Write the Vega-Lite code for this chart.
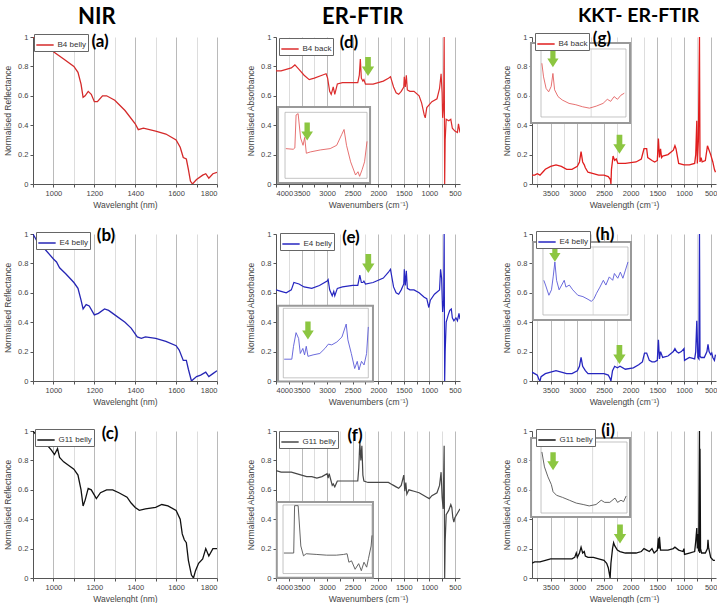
{
"$schema": "https://vega.github.io/schema/vega-lite/v6.json",
"padding": {"left": 3, "top": 5, "right": 0, "bottom": 0},
"config": {
 "view": {"stroke": null},
 "font": "Liberation Sans",
 "axis": {"labelFontSize": 7.5, "titleFontSize": 8.5, "titleFontWeight": "normal", "labelColor": "#444", "titleColor": "#444", "domainColor": "#555", "tickColor": "#555", "tickSize": 3, "labelPadding": 2, "titlePadding": 4, "gridWidth": 0.8, "labelFont": "Liberation Sans", "titleFont": "Liberation Sans"},
 "axisY": {"grid": false, "titlePadding": 5},
 "axisX": {"grid": true},
 "legend": {"orient": "none", "fillColor": "white", "strokeColor": "#666", "padding": 1.5, "symbolType": "stroke", "symbolSize": 300, "symbolStrokeWidth": 1.5, "labelFontSize": 8, "labelColor": "#333", "labelOffset": 3, "labelFont": "Liberation Sans"},
 "title": {"font": "Lato", "fontSize": 22, "fontWeight": "bold", "anchor": "start", "frame": "group", "color": "#000", "offset": 4}
},
"datasets": {
 "a": [{"x":900,"y":1.0},{"x":950,"y":0.95},{"x":1000,"y":0.9},{"x":1050,"y":0.85},{"x":1100,"y":0.8},{"x":1120,"y":0.76},{"x":1135,"y":0.68},{"x":1145,"y":0.59},{"x":1155,"y":0.6},{"x":1170,"y":0.63},{"x":1185,"y":0.61},{"x":1200,"y":0.56},{"x":1215,"y":0.56},{"x":1240,"y":0.6},{"x":1260,"y":0.6},{"x":1300,"y":0.57},{"x":1350,"y":0.5},{"x":1400,"y":0.41},{"x":1415,"y":0.37},{"x":1440,"y":0.38},{"x":1500,"y":0.36},{"x":1550,"y":0.34},{"x":1600,"y":0.3},{"x":1620,"y":0.25},{"x":1635,"y":0.18},{"x":1650,"y":0.17},{"x":1660,"y":0.1},{"x":1670,"y":0.02},{"x":1680,"y":0.0},{"x":1700,"y":0.03},{"x":1730,"y":0.06},{"x":1745,"y":0.07},{"x":1760,"y":0.04},{"x":1780,"y":0.07},{"x":1800,"y":0.08}],
 "b": [{"x":900,"y":1.0},{"x":920,"y":0.95},{"x":950,"y":0.91},{"x":1000,"y":0.83},{"x":1015,"y":0.81},{"x":1030,"y":0.77},{"x":1060,"y":0.73},{"x":1100,"y":0.67},{"x":1120,"y":0.63},{"x":1135,"y":0.55},{"x":1145,"y":0.49},{"x":1160,"y":0.52},{"x":1175,"y":0.51},{"x":1200,"y":0.45},{"x":1220,"y":0.46},{"x":1250,"y":0.49},{"x":1270,"y":0.48},{"x":1300,"y":0.45},{"x":1350,"y":0.4},{"x":1380,"y":0.36},{"x":1410,"y":0.3},{"x":1430,"y":0.29},{"x":1450,"y":0.3},{"x":1500,"y":0.29},{"x":1550,"y":0.27},{"x":1600,"y":0.24},{"x":1615,"y":0.21},{"x":1635,"y":0.14},{"x":1650,"y":0.14},{"x":1660,"y":0.08},{"x":1675,"y":0.0},{"x":1700,"y":0.03},{"x":1720,"y":0.04},{"x":1745,"y":0.06},{"x":1760,"y":0.03},{"x":1780,"y":0.05},{"x":1800,"y":0.07}],
 "c": [{"x":900,"y":1.0},{"x":930,"y":0.95},{"x":960,"y":0.92},{"x":990,"y":0.87},{"x":1005,"y":0.84},{"x":1020,"y":0.88},{"x":1030,"y":0.82},{"x":1050,"y":0.79},{"x":1080,"y":0.76},{"x":1100,"y":0.74},{"x":1120,"y":0.7},{"x":1135,"y":0.6},{"x":1145,"y":0.49},{"x":1155,"y":0.53},{"x":1170,"y":0.61},{"x":1185,"y":0.6},{"x":1210,"y":0.54},{"x":1230,"y":0.58},{"x":1260,"y":0.6},{"x":1290,"y":0.6},{"x":1320,"y":0.58},{"x":1360,"y":0.55},{"x":1380,"y":0.51},{"x":1400,"y":0.48},{"x":1420,"y":0.46},{"x":1450,"y":0.47},{"x":1500,"y":0.48},{"x":1530,"y":0.5},{"x":1560,"y":0.49},{"x":1600,"y":0.46},{"x":1620,"y":0.4},{"x":1630,"y":0.3},{"x":1640,"y":0.26},{"x":1650,"y":0.24},{"x":1660,"y":0.12},{"x":1675,"y":0.02},{"x":1685,"y":0.0},{"x":1695,"y":0.05},{"x":1710,"y":0.1},{"x":1730,"y":0.13},{"x":1745,"y":0.2},{"x":1760,"y":0.15},{"x":1780,"y":0.2},{"x":1800,"y":0.2}],
 "d": [{"x":4000,"y":0.77},{"x":3900,"y":0.77},{"x":3800,"y":0.78},{"x":3700,"y":0.79},{"x":3630,"y":0.81},{"x":3550,"y":0.78},{"x":3450,"y":0.74},{"x":3350,"y":0.71},{"x":3250,"y":0.72},{"x":3100,"y":0.74},{"x":3020,"y":0.75},{"x":2990,"y":0.72},{"x":2950,"y":0.63},{"x":2920,"y":0.61},{"x":2880,"y":0.66},{"x":2850,"y":0.61},{"x":2800,"y":0.68},{"x":2700,"y":0.69},{"x":2500,"y":0.69},{"x":2400,"y":0.69},{"x":2370,"y":0.74},{"x":2350,"y":0.85},{"x":2330,"y":0.72},{"x":2300,"y":0.7},{"x":2280,"y":0.71},{"x":2250,"y":0.68},{"x":2100,"y":0.68},{"x":1900,"y":0.7},{"x":1800,"y":0.72},{"x":1760,"y":0.73},{"x":1700,"y":0.66},{"x":1650,"y":0.62},{"x":1600,"y":0.61},{"x":1550,"y":0.63},{"x":1500,"y":0.66},{"x":1490,"y":0.73},{"x":1470,"y":0.66},{"x":1450,"y":0.74},{"x":1430,"y":0.64},{"x":1380,"y":0.63},{"x":1300,"y":0.63},{"x":1200,"y":0.6},{"x":1150,"y":0.55},{"x":1100,"y":0.47},{"x":1080,"y":0.45},{"x":1050,"y":0.52},{"x":1000,"y":0.54},{"x":950,"y":0.56},{"x":850,"y":0.58},{"x":800,"y":0.65},{"x":770,"y":0.75},{"x":750,"y":0.62},{"x":740,"y":0.45},{"x":720,"y":0.55},{"x":710,"y":1.0},{"x":700,"y":0.0},{"x":690,"y":0.3},{"x":670,"y":0.44},{"x":620,"y":0.43},{"x":580,"y":0.44},{"x":550,"y":0.38},{"x":500,"y":0.36},{"x":450,"y":0.35},{"x":430,"y":0.41},{"x":400,"y":0.35}],
 "e": [{"x":4000,"y":0.62},{"x":3900,"y":0.61},{"x":3800,"y":0.6},{"x":3700,"y":0.62},{"x":3650,"y":0.67},{"x":3550,"y":0.66},{"x":3450,"y":0.64},{"x":3300,"y":0.63},{"x":3150,"y":0.65},{"x":3000,"y":0.68},{"x":2980,"y":0.69},{"x":2950,"y":0.62},{"x":2900,"y":0.58},{"x":2870,"y":0.61},{"x":2850,"y":0.58},{"x":2800,"y":0.63},{"x":2700,"y":0.64},{"x":2500,"y":0.65},{"x":2400,"y":0.65},{"x":2360,"y":0.72},{"x":2330,"y":0.67},{"x":2300,"y":0.67},{"x":2280,"y":0.68},{"x":2250,"y":0.66},{"x":2100,"y":0.67},{"x":1900,"y":0.7},{"x":1800,"y":0.74},{"x":1760,"y":0.76},{"x":1700,"y":0.64},{"x":1650,"y":0.6},{"x":1600,"y":0.59},{"x":1550,"y":0.62},{"x":1500,"y":0.66},{"x":1490,"y":0.76},{"x":1470,"y":0.65},{"x":1450,"y":0.75},{"x":1430,"y":0.63},{"x":1380,"y":0.62},{"x":1300,"y":0.62},{"x":1200,"y":0.6},{"x":1100,"y":0.57},{"x":1050,"y":0.56},{"x":1010,"y":0.5},{"x":980,"y":0.55},{"x":900,"y":0.59},{"x":800,"y":0.62},{"x":780,"y":0.76},{"x":760,"y":0.7},{"x":740,"y":0.47},{"x":720,"y":0.55},{"x":710,"y":1.0},{"x":700,"y":0.0},{"x":690,"y":0.2},{"x":670,"y":0.4},{"x":630,"y":0.45},{"x":600,"y":0.48},{"x":570,"y":0.49},{"x":550,"y":0.43},{"x":520,"y":0.41},{"x":480,"y":0.43},{"x":450,"y":0.41},{"x":420,"y":0.46},{"x":400,"y":0.42}],
 "f": [{"x":4000,"y":0.73},{"x":3900,"y":0.72},{"x":3800,"y":0.72},{"x":3700,"y":0.72},{"x":3600,"y":0.71},{"x":3500,"y":0.7},{"x":3400,"y":0.69},{"x":3300,"y":0.69},{"x":3200,"y":0.68},{"x":3100,"y":0.69},{"x":3000,"y":0.71},{"x":2980,"y":0.68},{"x":2960,"y":0.71},{"x":2930,"y":0.67},{"x":2900,"y":0.63},{"x":2880,"y":0.64},{"x":2850,"y":0.62},{"x":2800,"y":0.66},{"x":2700,"y":0.66},{"x":2500,"y":0.66},{"x":2400,"y":0.66},{"x":2380,"y":0.75},{"x":2360,"y":0.93},{"x":2340,"y":0.8},{"x":2320,"y":0.9},{"x":2300,"y":0.7},{"x":2280,"y":0.66},{"x":2200,"y":0.65},{"x":2000,"y":0.65},{"x":1800,"y":0.65},{"x":1750,"y":0.64},{"x":1700,"y":0.63},{"x":1650,"y":0.62},{"x":1600,"y":0.61},{"x":1550,"y":0.63},{"x":1500,"y":0.7},{"x":1480,"y":0.59},{"x":1460,"y":0.65},{"x":1440,"y":0.57},{"x":1400,"y":0.6},{"x":1300,"y":0.59},{"x":1200,"y":0.58},{"x":1100,"y":0.56},{"x":1050,"y":0.55},{"x":1000,"y":0.54},{"x":950,"y":0.56},{"x":850,"y":0.58},{"x":800,"y":0.63},{"x":770,"y":0.72},{"x":750,"y":0.55},{"x":730,"y":0.47},{"x":710,"y":0.9},{"x":700,"y":0.0},{"x":690,"y":0.25},{"x":670,"y":0.43},{"x":620,"y":0.46},{"x":580,"y":0.5},{"x":560,"y":0.48},{"x":540,"y":0.41},{"x":520,"y":0.38},{"x":500,"y":0.41},{"x":450,"y":0.44},{"x":400,"y":0.47}],
 "g": [{"x":3850,"y":0.06},{"x":3800,"y":0.06},{"x":3750,"y":0.07},{"x":3700,"y":0.06},{"x":3650,"y":0.08},{"x":3600,"y":0.1},{"x":3500,"y":0.12},{"x":3400,"y":0.13},{"x":3300,"y":0.12},{"x":3200,"y":0.1},{"x":3100,"y":0.1},{"x":3000,"y":0.12},{"x":2960,"y":0.15},{"x":2930,"y":0.22},{"x":2900,"y":0.15},{"x":2870,"y":0.13},{"x":2850,"y":0.11},{"x":2800,"y":0.08},{"x":2700,"y":0.07},{"x":2600,"y":0.06},{"x":2500,"y":0.06},{"x":2420,"y":0.05},{"x":2380,"y":0.03},{"x":2370,"y":0.0},{"x":2360,"y":0.1},{"x":2330,"y":0.19},{"x":2300,"y":0.16},{"x":2270,"y":0.17},{"x":2240,"y":0.14},{"x":2100,"y":0.14},{"x":1900,"y":0.15},{"x":1800,"y":0.17},{"x":1750,"y":0.24},{"x":1700,"y":0.24},{"x":1680,"y":0.18},{"x":1600,"y":0.16},{"x":1550,"y":0.15},{"x":1500,"y":0.16},{"x":1480,"y":0.31},{"x":1460,"y":0.18},{"x":1440,"y":0.24},{"x":1420,"y":0.18},{"x":1400,"y":0.19},{"x":1300,"y":0.2},{"x":1200,"y":0.23},{"x":1170,"y":0.26},{"x":1150,"y":0.24},{"x":1120,"y":0.18},{"x":1100,"y":0.14},{"x":1000,"y":0.13},{"x":900,"y":0.13},{"x":800,"y":0.14},{"x":780,"y":0.2},{"x":760,"y":0.43},{"x":750,"y":0.14},{"x":730,"y":0.3},{"x":710,"y":1.0},{"x":700,"y":0.15},{"x":680,"y":0.18},{"x":660,"y":0.15},{"x":600,"y":0.16},{"x":560,"y":0.26},{"x":540,"y":0.24},{"x":500,"y":0.2},{"x":460,"y":0.15},{"x":430,"y":0.1},{"x":410,"y":0.08}],
 "h": [{"x":3850,"y":0.06},{"x":3800,"y":0.05},{"x":3750,"y":0.04},{"x":3720,"y":0.01},{"x":3700,"y":0.0},{"x":3680,"y":0.03},{"x":3600,"y":0.05},{"x":3500,"y":0.06},{"x":3400,"y":0.07},{"x":3300,"y":0.06},{"x":3200,"y":0.05},{"x":3100,"y":0.05},{"x":3000,"y":0.07},{"x":2960,"y":0.1},{"x":2930,"y":0.16},{"x":2900,"y":0.1},{"x":2850,"y":0.07},{"x":2800,"y":0.05},{"x":2700,"y":0.05},{"x":2500,"y":0.05},{"x":2420,"y":0.04},{"x":2390,"y":0.02},{"x":2370,"y":0.0},{"x":2340,"y":0.07},{"x":2300,"y":0.1},{"x":2250,"y":0.09},{"x":2200,"y":0.1},{"x":2100,"y":0.08},{"x":1950,"y":0.09},{"x":1850,"y":0.11},{"x":1780,"y":0.13},{"x":1740,"y":0.19},{"x":1700,"y":0.19},{"x":1650,"y":0.14},{"x":1600,"y":0.13},{"x":1550,"y":0.13},{"x":1500,"y":0.14},{"x":1480,"y":0.28},{"x":1460,"y":0.15},{"x":1440,"y":0.2},{"x":1400,"y":0.16},{"x":1300,"y":0.17},{"x":1200,"y":0.2},{"x":1170,"y":0.22},{"x":1140,"y":0.2},{"x":1100,"y":0.19},{"x":1050,"y":0.2},{"x":1000,"y":0.22},{"x":990,"y":0.14},{"x":900,"y":0.16},{"x":800,"y":0.15},{"x":780,"y":0.2},{"x":760,"y":0.41},{"x":740,"y":0.16},{"x":720,"y":0.15},{"x":710,"y":1.0},{"x":700,"y":0.17},{"x":680,"y":0.16},{"x":620,"y":0.16},{"x":570,"y":0.2},{"x":550,"y":0.25},{"x":530,"y":0.2},{"x":500,"y":0.18},{"x":480,"y":0.19},{"x":460,"y":0.16},{"x":430,"y":0.14},{"x":410,"y":0.18}],
 "i": [{"x":3850,"y":0.1},{"x":3800,"y":0.11},{"x":3700,"y":0.11},{"x":3600,"y":0.12},{"x":3500,"y":0.13},{"x":3400,"y":0.13},{"x":3300,"y":0.13},{"x":3200,"y":0.13},{"x":3100,"y":0.13},{"x":3050,"y":0.14},{"x":3020,"y":0.17},{"x":3000,"y":0.14},{"x":2960,"y":0.17},{"x":2930,"y":0.21},{"x":2900,"y":0.17},{"x":2870,"y":0.18},{"x":2850,"y":0.15},{"x":2800,"y":0.14},{"x":2700,"y":0.14},{"x":2600,"y":0.13},{"x":2500,"y":0.12},{"x":2450,"y":0.1},{"x":2420,"y":0.07},{"x":2400,"y":0.03},{"x":2385,"y":0.0},{"x":2370,"y":0.1},{"x":2340,"y":0.2},{"x":2320,"y":0.24},{"x":2300,"y":0.22},{"x":2250,"y":0.19},{"x":2200,"y":0.18},{"x":2100,"y":0.17},{"x":2000,"y":0.17},{"x":1900,"y":0.17},{"x":1800,"y":0.18},{"x":1750,"y":0.2},{"x":1700,"y":0.19},{"x":1650,"y":0.18},{"x":1600,"y":0.2},{"x":1560,"y":0.17},{"x":1500,"y":0.19},{"x":1480,"y":0.27},{"x":1470,"y":0.2},{"x":1460,"y":0.28},{"x":1440,"y":0.19},{"x":1400,"y":0.19},{"x":1300,"y":0.19},{"x":1200,"y":0.2},{"x":1170,"y":0.21},{"x":1100,"y":0.19},{"x":1020,"y":0.18},{"x":1000,"y":0.2},{"x":990,"y":0.16},{"x":900,"y":0.17},{"x":800,"y":0.18},{"x":780,"y":0.25},{"x":760,"y":0.34},{"x":750,"y":0.2},{"x":740,"y":0.3},{"x":725,"y":0.18},{"x":710,"y":1.0},{"x":705,"y":0.17},{"x":700,"y":0.88},{"x":690,"y":0.2},{"x":670,"y":0.17},{"x":600,"y":0.17},{"x":560,"y":0.2},{"x":550,"y":0.26},{"x":540,"y":0.21},{"x":500,"y":0.14},{"x":450,"y":0.12},{"x":420,"y":0.12}],
 "id": [{"u":0.01,"v":0.45},{"u":0.1,"v":0.44},{"u":0.12,"v":0.46},{"u":0.135,"v":0.96},{"u":0.16,"v":0.98},{"u":0.19,"v":0.61},{"u":0.22,"v":0.5},{"u":0.24,"v":0.62},{"u":0.26,"v":0.38},{"u":0.31,"v":0.4},{"u":0.43,"v":0.43},{"u":0.55,"v":0.45},{"u":0.63,"v":0.5},{"u":0.69,"v":0.66},{"u":0.72,"v":0.74},{"u":0.75,"v":0.5},{"u":0.8,"v":0.25},{"u":0.86,"v":0.05},{"u":0.89,"v":0.1},{"u":0.91,"v":0.03},{"u":0.94,"v":0.13},{"u":0.97,"v":0.25},{"u":1.0,"v":0.56}],
 "ie": [{"u":0.01,"v":0.29},{"u":0.1,"v":0.29},{"u":0.12,"v":0.47},{"u":0.15,"v":0.66},{"u":0.18,"v":0.58},{"u":0.2,"v":0.37},{"u":0.23,"v":0.44},{"u":0.25,"v":0.35},{"u":0.27,"v":0.47},{"u":0.29,"v":0.33},{"u":0.35,"v":0.35},{"u":0.43,"v":0.37},{"u":0.49,"v":0.44},{"u":0.53,"v":0.5},{"u":0.57,"v":0.49},{"u":0.63,"v":0.53},{"u":0.69,"v":0.6},{"u":0.74,"v":0.78},{"u":0.76,"v":0.56},{"u":0.8,"v":0.37},{"u":0.84,"v":0.16},{"u":0.87,"v":0.26},{"u":0.89,"v":0.14},{"u":0.92,"v":0.26},{"u":0.95,"v":0.21},{"u":0.98,"v":0.37},{"u":1.0,"v":0.74}],
 "if": [{"u":0.01,"v":0.32},{"u":0.12,"v":0.32},{"u":0.13,"v":0.99},{"u":0.17,"v":0.99},{"u":0.2,"v":0.42},{"u":0.23,"v":0.28},{"u":0.26,"v":0.31},{"u":0.38,"v":0.3},{"u":0.49,"v":0.29},{"u":0.6,"v":0.29},{"u":0.68,"v":0.3},{"u":0.72,"v":0.31},{"u":0.74,"v":0.19},{"u":0.77,"v":0.21},{"u":0.81,"v":0.09},{"u":0.85,"v":0.17},{"u":0.88,"v":0.07},{"u":0.91,"v":0.19},{"u":0.94,"v":0.12},{"u":0.96,"v":0.24},{"u":0.99,"v":0.42},{"u":1.0,"v":0.57}],
 "ig": [{"u":0.01,"v":0.79},{"u":0.03,"v":0.59},{"u":0.06,"v":0.42},{"u":0.09,"v":0.37},{"u":0.12,"v":0.45},{"u":0.14,"v":0.64},{"u":0.16,"v":0.4},{"u":0.2,"v":0.3},{"u":0.25,"v":0.25},{"u":0.33,"v":0.2},{"u":0.41,"v":0.18},{"u":0.49,"v":0.15},{"u":0.57,"v":0.13},{"u":0.65,"v":0.16},{"u":0.73,"v":0.2},{"u":0.78,"v":0.26},{"u":0.82,"v":0.23},{"u":0.86,"v":0.3},{"u":0.9,"v":0.26},{"u":0.94,"v":0.32},{"u":0.98,"v":0.35}],
 "ih": [{"u":0.01,"v":0.51},{"u":0.03,"v":0.44},{"u":0.07,"v":0.29},{"u":0.1,"v":0.37},{"u":0.12,"v":0.56},{"u":0.14,"v":0.78},{"u":0.16,"v":0.51},{"u":0.19,"v":0.37},{"u":0.22,"v":0.44},{"u":0.25,"v":0.51},{"u":0.27,"v":0.41},{"u":0.31,"v":0.44},{"u":0.35,"v":0.37},{"u":0.41,"v":0.29},{"u":0.47,"v":0.27},{"u":0.53,"v":0.23},{"u":0.57,"v":0.2},{"u":0.6,"v":0.24},{"u":0.63,"v":0.32},{"u":0.67,"v":0.41},{"u":0.71,"v":0.51},{"u":0.74,"v":0.44},{"u":0.78,"v":0.56},{"u":0.82,"v":0.51},{"u":0.84,"v":0.61},{"u":0.88,"v":0.54},{"u":0.91,"v":0.63},{"u":0.94,"v":0.54},{"u":0.97,"v":0.66},{"u":1.0,"v":0.78}],
 "ii": [{"u":0.01,"v":0.86},{"u":0.04,"v":0.65},{"u":0.08,"v":0.51},{"u":0.12,"v":0.4},{"u":0.14,"v":0.3},{"u":0.18,"v":0.25},{"u":0.25,"v":0.22},{"u":0.33,"v":0.18},{"u":0.41,"v":0.14},{"u":0.49,"v":0.12},{"u":0.56,"v":0.1},{"u":0.64,"v":0.12},{"u":0.7,"v":0.18},{"u":0.74,"v":0.15},{"u":0.8,"v":0.15},{"u":0.86,"v":0.21},{"u":0.89,"v":0.15},{"u":0.93,"v":0.18},{"u":0.96,"v":0.16},{"u":0.99,"v":0.24}]
},
"hconcat": [
 {"hconcat": [
  {"vconcat": [
   {"width": 184, "height": 147, "title": {"text": "NIR", "dx": 45},
    "layer": [
     {"data": {"name": "a"}, "mark": {"type": "line", "strokeWidth": 1.3, "clip": true},
      "encoding": {
       "x": {"field": "x", "type": "quantitative", "scale": {"domain": [900, 1800]}, "axis": {"title": "Wavelenght (nm)", "format": "d", "values": [900,1000,1100,1200,1300,1400,1500,1600,1700,1800], "labelExpr": "datum.value % 200 == 0 ? datum.label : ''", "gridColor": {"condition": {"test": "datum.value % 200 == 0", "value": "#a8a8a8"}, "value": "#d4d4d4"}}},
       "y": {"field": "y", "type": "quantitative", "scale": {"domain": [0, 1]}, "axis": {"title": "Normalised Reflectance", "values": [0,0.2,0.4,0.6,0.8,1], "format": "~g"}},
       "color": {"datum": "B4 belly", "type": "nominal", "scale": {"range": ["#d42a2a"]}, "legend": {"title": null, "legendX": 1, "legendY": -3}}}},
     {"data": {"values": [{}]}, "mark": {"type": "text", "text": "(a)", "font": "Lato", "fontSize": 17, "fontWeight": "bold", "color": "#000"},
      "encoding": {"x": {"datum": 1228, "type": "quantitative", "scale": {"domain": [900, 1800]}, "axis": null}, "y": {"datum": 0.966, "type": "quantitative", "scale": {"domain": [0, 1]}, "axis": null}}}
    ],
    "resolve": {"scale": {"x": "independent", "y": "independent"}}},
   {"width": 184, "height": 147,
    "layer": [
     {"data": {"name": "b"}, "mark": {"type": "line", "strokeWidth": 1.3, "clip": true},
      "encoding": {
       "x": {"field": "x", "type": "quantitative", "scale": {"domain": [900, 1800]}, "axis": {"title": "Wavelenght (nm)", "format": "d", "values": [900,1000,1100,1200,1300,1400,1500,1600,1700,1800], "labelExpr": "datum.value % 200 == 0 ? datum.label : ''", "gridColor": {"condition": {"test": "datum.value % 200 == 0", "value": "#a8a8a8"}, "value": "#d4d4d4"}}},
       "y": {"field": "y", "type": "quantitative", "scale": {"domain": [0, 1]}, "axis": {"title": "Normalised Reflectance", "values": [0,0.2,0.4,0.6,0.8,1], "format": "~g"}},
       "color": {"datum": "E4 belly", "type": "nominal", "scale": {"range": ["#2626b4"]}, "legend": {"title": null, "legendX": 3, "legendY": -2}}}},
     {"data": {"values": [{}]}, "mark": {"type": "text", "text": "(b)", "font": "Lato", "fontSize": 17, "fontWeight": "bold", "color": "#000"},
      "encoding": {"x": {"datum": 1257, "type": "quantitative", "scale": {"domain": [900, 1800]}, "axis": null}, "y": {"datum": 0.986, "type": "quantitative", "scale": {"domain": [0, 1]}, "axis": null}}}
    ],
    "resolve": {"scale": {"x": "independent", "y": "independent"}}},
   {"width": 184, "height": 147,
    "layer": [
     {"data": {"name": "c"}, "mark": {"type": "line", "strokeWidth": 1.3, "clip": true},
      "encoding": {
       "x": {"field": "x", "type": "quantitative", "scale": {"domain": [900, 1800]}, "axis": {"title": "Wavelenght (nm)", "format": "d", "values": [900,1000,1100,1200,1300,1400,1500,1600,1700,1800], "labelExpr": "datum.value % 200 == 0 ? datum.label : ''", "gridColor": {"condition": {"test": "datum.value % 200 == 0", "value": "#a8a8a8"}, "value": "#d4d4d4"}}},
       "y": {"field": "y", "type": "quantitative", "scale": {"domain": [0, 1]}, "axis": {"title": "Normalised Reflectance", "values": [0,0.2,0.4,0.6,0.8,1], "format": "~g"}},
       "color": {"datum": "G11 belly", "type": "nominal", "scale": {"range": ["#111111"]}, "legend": {"title": null, "legendX": 2, "legendY": -2}}}},
     {"data": {"values": [{}]}, "mark": {"type": "text", "text": "(c)", "font": "Lato", "fontSize": 17, "fontWeight": "bold", "color": "#000"},
      "encoding": {"x": {"datum": 1277, "type": "quantitative", "scale": {"domain": [900, 1800]}, "axis": null}, "y": {"datum": 0.98, "type": "quantitative", "scale": {"domain": [0, 1]}, "axis": null}}}
    ],
    "resolve": {"scale": {"x": "independent", "y": "independent"}}}
  ], "spacing": 50, "bounds": "flush", "resolve": {"scale": {"color": "independent"}, "legend": {"color": "independent"}}},
  {"vconcat": [
   {"width": 184, "height": 147, "title": {"text": "ER-FTIR", "dx": 46},
    "layer": [
     {"data": {"name": "d"}, "mark": {"type": "line", "strokeWidth": 1.2, "clip": true},
      "encoding": {
       "x": {"field": "x", "type": "quantitative", "scale": {"domain": [400, 4000], "reverse": true}, "axis": {"title": "Wavenumbers (cm⁻¹)", "format": "d", "values": [500,750,1000,1250,1500,1750,2000,2250,2500,2750,3000,3250,3500,3750,4000], "labelExpr": "datum.value % 500 == 0 ? datum.label : ''", "gridColor": {"condition": {"test": "datum.value % 500 == 0", "value": "#a8a8a8"}, "value": "#d4d4d4"}}},
       "y": {"field": "y", "type": "quantitative", "scale": {"domain": [0, 1]}, "axis": {"title": "Normalised Absorbance", "values": [0,0.2,0.4,0.6,0.8,1], "format": "~g"}},
       "color": {"datum": "B4 back", "type": "nominal", "scale": {"range": ["#dc2c2c"]}, "legend": {"title": null, "legendX": 3, "legendY": 1}}}},
     {"layer": [
      {"data": {"values": [{}]}, "mark": {"type": "rect", "fill": "white", "stroke": "#999", "strokeWidth": 2},
       "encoding": {"x": {"datum": -0.085, "type": "quantitative", "scale": {"domain": [-0.11, 2.134]}, "axis": null}, "x2": {"datum": 1.037}, "y": {"datum": -0.071, "type": "quantitative", "scale": {"domain": [-0.086, 2.141]}, "axis": null}, "y2": {"datum": 1.08}}},
      {"data": {"values": [{}]}, "mark": {"type": "rect", "filled": false, "color": "#aaa", "strokeWidth": 0.7},
       "encoding": {"x": {"datum": 0, "type": "quantitative", "scale": {"domain": [-0.11, 2.134]}, "axis": null}, "x2": {"datum": 1}, "y": {"datum": 0, "type": "quantitative", "scale": {"domain": [-0.086, 2.141]}, "axis": null}, "y2": {"datum": 1}}},
      {"data": {"name": "id"}, "mark": {"type": "line", "color": "#e36262", "strokeWidth": 0.9},
       "encoding": {"x": {"field": "u", "type": "quantitative", "scale": {"domain": [-0.11, 2.134]}, "axis": null}, "y": {"field": "v", "type": "quantitative", "scale": {"domain": [-0.086, 2.141]}, "axis": null}}},
      {"data": {"values": [{}]}, "mark": {"type": "point", "shape": "M-0.3,-1L0.3,-1L0.3,0L0.65,0L0,1L-0.65,0L-0.3,0Z", "filled": true, "color": "#8cc641", "opacity": 1, "size": 320},
       "encoding": {"x": {"datum": 0.27, "type": "quantitative", "scale": {"domain": [-0.11, 2.134]}, "axis": null}, "y": {"datum": 0.71, "type": "quantitative", "scale": {"domain": [-0.086, 2.141]}, "axis": null}}}
     ]},
     {"data": {"values": [{}]}, "mark": {"type": "point", "shape": "M-0.3,-1L0.3,-1L0.3,0L0.65,0L0,1L-0.65,0L-0.3,0Z", "filled": true, "color": "#8cc641", "opacity": 1, "size": 361},
      "encoding": {"x": {"datum": 2200, "type": "quantitative", "scale": {"domain": [400, 4000], "reverse": true}, "axis": null}, "y": {"datum": 0.8, "type": "quantitative", "scale": {"domain": [0, 1]}, "axis": null}}},
     {"data": {"values": [{}]}, "mark": {"type": "text", "text": "(d)", "font": "Lato", "fontSize": 17, "fontWeight": "bold", "color": "#000"},
      "encoding": {"x": {"datum": 2572, "type": "quantitative", "scale": {"domain": [400, 4000], "reverse": true}, "axis": null}, "y": {"datum": 0.96, "type": "quantitative", "scale": {"domain": [0, 1]}, "axis": null}}}
    ],
    "resolve": {"scale": {"x": "independent", "y": "independent"}}},
   {"width": 184, "height": 147,
    "layer": [
     {"data": {"name": "e"}, "mark": {"type": "line", "strokeWidth": 1.2, "clip": true},
      "encoding": {
       "x": {"field": "x", "type": "quantitative", "scale": {"domain": [400, 4000], "reverse": true}, "axis": {"title": "Wavenumbers (cm⁻¹)", "format": "d", "values": [500,750,1000,1250,1500,1750,2000,2250,2500,2750,3000,3250,3500,3750,4000], "labelExpr": "datum.value % 500 == 0 ? datum.label : ''", "gridColor": {"condition": {"test": "datum.value % 500 == 0", "value": "#a8a8a8"}, "value": "#d4d4d4"}}},
       "y": {"field": "y", "type": "quantitative", "scale": {"domain": [0, 1]}, "axis": {"title": "Normalised Absorbance", "values": [0,0.2,0.4,0.6,0.8,1], "format": "~g"}},
       "color": {"datum": "E4 belly", "type": "nominal", "scale": {"range": ["#2626c0"]}, "legend": {"title": null, "legendX": 4, "legendY": -1}}}},
     {"layer": [
      {"data": {"values": [{}]}, "mark": {"type": "rect", "fill": "white", "stroke": "#999", "strokeWidth": 2},
       "encoding": {"x": {"datum": -0.062, "type": "quantitative", "scale": {"domain": [-0.086, 2.079]}, "axis": null}, "x2": {"datum": 1.055}, "y": {"datum": -0.02, "type": "quantitative", "scale": {"domain": [-0.014, 2.036]}, "axis": null}, "y2": {"datum": 1.035}}},
      {"data": {"values": [{}]}, "mark": {"type": "rect", "filled": false, "color": "#aaa", "strokeWidth": 0.7},
       "encoding": {"x": {"datum": 0, "type": "quantitative", "scale": {"domain": [-0.086, 2.079]}, "axis": null}, "x2": {"datum": 1}, "y": {"datum": 0.03, "type": "quantitative", "scale": {"domain": [-0.014, 2.036]}, "axis": null}, "y2": {"datum": 1}}},
      {"data": {"name": "ie"}, "mark": {"type": "line", "color": "#5a5ad8", "strokeWidth": 0.9},
       "encoding": {"x": {"field": "u", "type": "quantitative", "scale": {"domain": [-0.086, 2.079]}, "axis": null}, "y": {"field": "v", "type": "quantitative", "scale": {"domain": [-0.014, 2.036]}, "axis": null}}},
      {"data": {"values": [{}]}, "mark": {"type": "point", "shape": "M-0.3,-1L0.3,-1L0.3,0L0.65,0L0,1L-0.65,0L-0.3,0Z", "filled": true, "color": "#8cc641", "opacity": 1, "size": 320},
       "encoding": {"x": {"datum": 0.29, "type": "quantitative", "scale": {"domain": [-0.086, 2.079]}, "axis": null}, "y": {"datum": 0.69, "type": "quantitative", "scale": {"domain": [-0.014, 2.036]}, "axis": null}}}
     ]},
     {"data": {"values": [{}]}, "mark": {"type": "point", "shape": "M-0.3,-1L0.3,-1L0.3,0L0.65,0L0,1L-0.65,0L-0.3,0Z", "filled": true, "color": "#8cc641", "opacity": 1, "size": 361},
      "encoding": {"x": {"datum": 2194, "type": "quantitative", "scale": {"domain": [400, 4000], "reverse": true}, "axis": null}, "y": {"datum": 0.8, "type": "quantitative", "scale": {"domain": [0, 1]}, "axis": null}}},
     {"data": {"values": [{}]}, "mark": {"type": "text", "text": "(e)", "font": "Lato", "fontSize": 17, "fontWeight": "bold", "color": "#000"},
      "encoding": {"x": {"datum": 2533, "type": "quantitative", "scale": {"domain": [400, 4000], "reverse": true}, "axis": null}, "y": {"datum": 0.973, "type": "quantitative", "scale": {"domain": [0, 1]}, "axis": null}}}
    ],
    "resolve": {"scale": {"x": "independent", "y": "independent"}}},
   {"width": 184, "height": 147,
    "layer": [
     {"data": {"name": "f"}, "mark": {"type": "line", "strokeWidth": 1.2, "clip": true},
      "encoding": {
       "x": {"field": "x", "type": "quantitative", "scale": {"domain": [400, 4000], "reverse": true}, "axis": {"title": "Wavenumbers (cm⁻¹)", "format": "d", "values": [500,750,1000,1250,1500,1750,2000,2250,2500,2750,3000,3250,3500,3750,4000], "labelExpr": "datum.value % 500 == 0 ? datum.label : ''", "gridColor": {"condition": {"test": "datum.value % 500 == 0", "value": "#a8a8a8"}, "value": "#d4d4d4"}}},
       "y": {"field": "y", "type": "quantitative", "scale": {"domain": [0, 1]}, "axis": {"title": "Normalised Absorbance", "values": [0,0.2,0.4,0.6,0.8,1], "format": "~g"}},
       "color": {"datum": "G11 belly", "type": "nominal", "scale": {"range": ["#474747"]}, "legend": {"title": null, "legendX": 3, "legendY": 0}}}},
     {"layer": [
      {"data": {"values": [{}]}, "mark": {"type": "rect", "fill": "white", "stroke": "#999", "strokeWidth": 2},
       "encoding": {"x": {"datum": -0.07, "type": "quantitative", "scale": {"domain": [-0.079, 1.989]}, "axis": null}, "x2": {"datum": 1.011}, "y": {"datum": -0.03, "type": "quantitative", "scale": {"domain": [-0.033, 2.046]}, "axis": null}, "y2": {"datum": 1.042}}},
      {"data": {"values": [{}]}, "mark": {"type": "rect", "filled": false, "color": "#aaa", "strokeWidth": 0.7},
       "encoding": {"x": {"datum": 0, "type": "quantitative", "scale": {"domain": [-0.079, 1.989]}, "axis": null}, "x2": {"datum": 1}, "y": {"datum": 0.03, "type": "quantitative", "scale": {"domain": [-0.033, 2.046]}, "axis": null}, "y2": {"datum": 1}}},
      {"data": {"name": "if"}, "mark": {"type": "line", "color": "#555", "strokeWidth": 0.9},
       "encoding": {"x": {"field": "u", "type": "quantitative", "scale": {"domain": [-0.079, 1.989]}, "axis": null}, "y": {"field": "v", "type": "quantitative", "scale": {"domain": [-0.033, 2.046]}, "axis": null}}}
     ]},
     {"data": {"values": [{}]}, "mark": {"type": "text", "text": "(f)", "font": "Lato", "fontSize": 17, "fontWeight": "bold", "color": "#000"},
      "encoding": {"x": {"datum": 2454, "type": "quantitative", "scale": {"domain": [400, 4000], "reverse": true}, "axis": null}, "y": {"datum": 0.966, "type": "quantitative", "scale": {"domain": [0, 1]}, "axis": null}}}
    ],
    "resolve": {"scale": {"x": "independent", "y": "independent"}}}
  ], "spacing": 50, "bounds": "flush", "resolve": {"scale": {"color": "independent"}, "legend": {"color": "independent"}}}
 ], "spacing": 28, "resolve": {"scale": {"color": "independent"}, "legend": {"color": "independent"}}},
 {"vconcat": [
   {"width": 184, "height": 147, "title": {"text": "KKT- ER-FTIR", "dx": 46, "fontSize": 19.5},
    "layer": [
     {"data": {"name": "g"}, "mark": {"type": "line", "strokeWidth": 1.3, "clip": true},
      "encoding": {
       "x": {"field": "x", "type": "quantitative", "scale": {"domain": [400, 3850], "reverse": true}, "axis": {"title": "Wavelength (cm⁻¹)", "format": "d", "values": [500,750,1000,1250,1500,1750,2000,2250,2500,2750,3000,3250,3500,3750], "labelExpr": "datum.value % 500 == 0 ? datum.label : ''", "gridColor": {"condition": {"test": "datum.value % 500 == 0", "value": "#a8a8a8"}, "value": "#d4d4d4"}}},
       "y": {"field": "y", "type": "quantitative", "scale": {"domain": [0, 1]}, "axis": {"title": "Normalised Absorbance", "values": [0,0.2,0.4,0.6,0.8,1], "format": "~g"}},
       "color": {"datum": "B4 back", "type": "nominal", "scale": {"range": ["#e01e1e"]}, "legend": {"title": null, "legendX": 3, "legendY": -4}}}},
     {"layer": [
      {"data": {"values": [{}]}, "mark": {"type": "rect", "fill": "white", "stroke": "#999", "strokeWidth": 2},
       "encoding": {"x": {"datum": -0.118, "type": "quantitative", "scale": {"domain": [-0.106, 2.059]}, "axis": null}, "x2": {"datum": 1.047}, "y": {"datum": -0.088, "type": "quantitative", "scale": {"domain": [-0.985, 1.176]}, "axis": null}, "y2": {"datum": 1.088}}},
      {"data": {"values": [{}]}, "mark": {"type": "rect", "filled": false, "color": "#aaa", "strokeWidth": 0.7},
       "encoding": {"x": {"datum": 0, "type": "quantitative", "scale": {"domain": [-0.106, 2.059]}, "axis": null}, "x2": {"datum": 1}, "y": {"datum": 0, "type": "quantitative", "scale": {"domain": [-0.985, 1.176]}, "axis": null}, "y2": {"datum": 1}}},
      {"data": {"values": [{}]}, "mark": {"type": "rule", "color": "#ccc", "strokeWidth": 0.7},
       "encoding": {"x": {"datum": 0.59, "type": "quantitative", "scale": {"domain": [-0.106, 2.059]}, "axis": null}, "y": {"datum": 0, "type": "quantitative", "scale": {"domain": [-0.985, 1.176]}, "axis": null}, "y2": {"datum": 1}}},
      {"data": {"name": "ig"}, "mark": {"type": "line", "color": "#e36262", "strokeWidth": 0.9},
       "encoding": {"x": {"field": "u", "type": "quantitative", "scale": {"domain": [-0.106, 2.059]}, "axis": null}, "y": {"field": "v", "type": "quantitative", "scale": {"domain": [-0.985, 1.176]}, "axis": null}}},
      {"data": {"values": [{}]}, "mark": {"type": "point", "shape": "M-0.3,-1L0.3,-1L0.3,0L0.65,0L0,1L-0.65,0L-0.3,0Z", "filled": true, "color": "#8cc641", "opacity": 1, "size": 300},
       "encoding": {"x": {"datum": 0.14, "type": "quantitative", "scale": {"domain": [-0.106, 2.059]}, "axis": null}, "y": {"datum": 0.86, "type": "quantitative", "scale": {"domain": [-0.985, 1.176]}, "axis": null}}}
     ]},
     {"data": {"values": [{}]}, "mark": {"type": "point", "shape": "M-0.3,-1L0.3,-1L0.3,0L0.65,0L0,1L-0.65,0L-0.3,0Z", "filled": true, "color": "#8cc641", "opacity": 1, "size": 361},
      "encoding": {"x": {"datum": 2210, "type": "quantitative", "scale": {"domain": [400, 3850], "reverse": true}, "axis": null}, "y": {"datum": 0.27, "type": "quantitative", "scale": {"domain": [0, 1]}, "axis": null}}},
     {"data": {"values": [{}]}, "mark": {"type": "text", "text": "(g)", "font": "Lato", "fontSize": 17, "fontWeight": "bold", "color": "#000"},
      "encoding": {"x": {"datum": 2538, "type": "quantitative", "scale": {"domain": [400, 3850], "reverse": true}, "axis": null}, "y": {"datum": 0.986, "type": "quantitative", "scale": {"domain": [0, 1]}, "axis": null}}}
    ],
    "resolve": {"scale": {"x": "independent", "y": "independent"}}},
   {"width": 184, "height": 147,
    "layer": [
     {"data": {"name": "h"}, "mark": {"type": "line", "strokeWidth": 1.3, "clip": true},
      "encoding": {
       "x": {"field": "x", "type": "quantitative", "scale": {"domain": [400, 3850], "reverse": true}, "axis": {"title": "Wavelength (cm⁻¹)", "format": "d", "values": [500,750,1000,1250,1500,1750,2000,2250,2500,2750,3000,3250,3500,3750], "labelExpr": "datum.value % 500 == 0 ? datum.label : ''", "gridColor": {"condition": {"test": "datum.value % 500 == 0", "value": "#a8a8a8"}, "value": "#d4d4d4"}}},
       "y": {"field": "y", "type": "quantitative", "scale": {"domain": [0, 1]}, "axis": {"title": "Normalised Absorbance", "values": [0,0.2,0.4,0.6,0.8,1], "format": "~g"}},
       "color": {"datum": "E4 belly", "type": "nominal", "scale": {"range": ["#2626c0"]}, "legend": {"title": null, "legendX": 4, "legendY": -3}}}},
     {"layer": [
      {"data": {"values": [{}]}, "mark": {"type": "rect", "fill": "white", "stroke": "#999", "strokeWidth": 2},
       "encoding": {"x": {"datum": -0.118, "type": "quantitative", "scale": {"domain": [-0.129, 2.035]}, "axis": null}, "x2": {"datum": 1.035}, "y": {"datum": -0.074, "type": "quantitative", "scale": {"domain": [-0.971, 1.191]}, "axis": null}, "y2": {"datum": 1.074}}},
      {"data": {"values": [{}]}, "mark": {"type": "rect", "filled": false, "color": "#aaa", "strokeWidth": 0.7},
       "encoding": {"x": {"datum": 0, "type": "quantitative", "scale": {"domain": [-0.129, 2.035]}, "axis": null}, "x2": {"datum": 1}, "y": {"datum": 0, "type": "quantitative", "scale": {"domain": [-0.971, 1.191]}, "axis": null}, "y2": {"datum": 1}}},
      {"data": {"values": [{}]}, "mark": {"type": "rule", "color": "#ccc", "strokeWidth": 0.7},
       "encoding": {"x": {"datum": 0.59, "type": "quantitative", "scale": {"domain": [-0.129, 2.035]}, "axis": null}, "y": {"datum": 0, "type": "quantitative", "scale": {"domain": [-0.971, 1.191]}, "axis": null}, "y2": {"datum": 1}}},
      {"data": {"name": "ih"}, "mark": {"type": "line", "color": "#5a5ad8", "strokeWidth": 0.9},
       "encoding": {"x": {"field": "u", "type": "quantitative", "scale": {"domain": [-0.129, 2.035]}, "axis": null}, "y": {"field": "v", "type": "quantitative", "scale": {"domain": [-0.971, 1.191]}, "axis": null}}},
      {"data": {"values": [{}]}, "mark": {"type": "point", "shape": "M-0.3,-1L0.3,-1L0.3,0L0.65,0L0,1L-0.65,0L-0.3,0Z", "filled": true, "color": "#8cc641", "opacity": 1, "size": 300},
       "encoding": {"x": {"datum": 0.14, "type": "quantitative", "scale": {"domain": [-0.129, 2.035]}, "axis": null}, "y": {"datum": 0.91, "type": "quantitative", "scale": {"domain": [-0.971, 1.191]}, "axis": null}}}
     ]},
     {"data": {"values": [{}]}, "mark": {"type": "point", "shape": "M-0.3,-1L0.3,-1L0.3,0L0.65,0L0,1L-0.65,0L-0.3,0Z", "filled": true, "color": "#8cc641", "opacity": 1, "size": 361},
      "encoding": {"x": {"datum": 2211, "type": "quantitative", "scale": {"domain": [400, 3850], "reverse": true}, "axis": null}, "y": {"datum": 0.18, "type": "quantitative", "scale": {"domain": [0, 1]}, "axis": null}}},
     {"data": {"values": [{}]}, "mark": {"type": "text", "text": "(h)", "font": "Lato", "fontSize": 17, "fontWeight": "bold", "color": "#000"},
      "encoding": {"x": {"datum": 2481, "type": "quantitative", "scale": {"domain": [400, 3850], "reverse": true}, "axis": null}, "y": {"datum": 0.993, "type": "quantitative", "scale": {"domain": [0, 1]}, "axis": null}}}
    ],
    "resolve": {"scale": {"x": "independent", "y": "independent"}}},
   {"width": 184, "height": 147,
    "layer": [
     {"data": {"name": "i"}, "mark": {"type": "line", "strokeWidth": 1.3, "clip": true},
      "encoding": {
       "x": {"field": "x", "type": "quantitative", "scale": {"domain": [400, 3850], "reverse": true}, "axis": {"title": "Wavelength (cm⁻¹)", "format": "d", "values": [500,750,1000,1250,1500,1750,2000,2250,2500,2750,3000,3250,3500,3750], "labelExpr": "datum.value % 500 == 0 ? datum.label : ''", "gridColor": {"condition": {"test": "datum.value % 500 == 0", "value": "#a8a8a8"}, "value": "#d4d4d4"}}},
       "y": {"field": "y", "type": "quantitative", "scale": {"domain": [0, 1]}, "axis": {"title": "Normalised Absorbance", "values": [0,0.2,0.4,0.6,0.8,1], "format": "~g"}},
       "color": {"datum": "G11 belly", "type": "nominal", "scale": {"range": ["#111111"]}, "legend": {"title": null, "legendX": 4, "legendY": -2}}}},
     {"layer": [
      {"data": {"values": [{}]}, "mark": {"type": "rect", "fill": "white", "stroke": "#999", "strokeWidth": 2},
       "encoding": {"x": {"datum": -0.116, "type": "quantitative", "scale": {"domain": [-0.105, 2.035]}, "axis": null}, "x2": {"datum": 1.035}, "y": {"datum": -0.056, "type": "quantitative", "scale": {"domain": [-0.915, 1.155]}, "axis": null}, "y2": {"datum": 1.056}}},
      {"data": {"values": [{}]}, "mark": {"type": "rect", "filled": false, "color": "#aaa", "strokeWidth": 0.7},
       "encoding": {"x": {"datum": 0, "type": "quantitative", "scale": {"domain": [-0.105, 2.035]}, "axis": null}, "x2": {"datum": 1}, "y": {"datum": 0, "type": "quantitative", "scale": {"domain": [-0.915, 1.155]}, "axis": null}, "y2": {"datum": 1}}},
      {"data": {"values": [{}]}, "mark": {"type": "rule", "color": "#ccc", "strokeWidth": 0.7},
       "encoding": {"x": {"datum": 0.6, "type": "quantitative", "scale": {"domain": [-0.105, 2.035]}, "axis": null}, "y": {"datum": 0, "type": "quantitative", "scale": {"domain": [-0.915, 1.155]}, "axis": null}, "y2": {"datum": 1}}},
      {"data": {"name": "ii"}, "mark": {"type": "line", "color": "#555", "strokeWidth": 0.9},
       "encoding": {"x": {"field": "u", "type": "quantitative", "scale": {"domain": [-0.105, 2.035]}, "axis": null}, "y": {"field": "v", "type": "quantitative", "scale": {"domain": [-0.915, 1.155]}, "axis": null}}},
      {"data": {"values": [{}]}, "mark": {"type": "point", "shape": "M-0.3,-1L0.3,-1L0.3,0L0.65,0L0,1L-0.65,0L-0.3,0Z", "filled": true, "color": "#8cc641", "opacity": 1, "size": 320},
       "encoding": {"x": {"datum": 0.14, "type": "quantitative", "scale": {"domain": [-0.105, 2.035]}, "axis": null}, "y": {"datum": 0.73, "type": "quantitative", "scale": {"domain": [-0.915, 1.155]}, "axis": null}}}
     ]},
     {"data": {"values": [{}]}, "mark": {"type": "point", "shape": "M-0.3,-1L0.3,-1L0.3,0L0.65,0L0,1L-0.65,0L-0.3,0Z", "filled": true, "color": "#8cc641", "opacity": 1, "size": 361},
      "encoding": {"x": {"datum": 2200, "type": "quantitative", "scale": {"domain": [400, 3850], "reverse": true}, "axis": null}, "y": {"datum": 0.3, "type": "quantitative", "scale": {"domain": [0, 1]}, "axis": null}}},
     {"data": {"values": [{}]}, "mark": {"type": "text", "text": "(i)", "font": "Lato", "fontSize": 17, "fontWeight": "bold", "color": "#000"},
      "encoding": {"x": {"datum": 2425, "type": "quantitative", "scale": {"domain": [400, 3850], "reverse": true}, "axis": null}, "y": {"datum": 1.0, "type": "quantitative", "scale": {"domain": [0, 1]}, "axis": null}}}
    ],
    "resolve": {"scale": {"x": "independent", "y": "independent"}}}
 ], "spacing": 50, "bounds": "flush", "resolve": {"scale": {"color": "independent"}, "legend": {"color": "independent"}}}
],
"spacing": 40,
"resolve": {"scale": {"color": "independent"}, "legend": {"color": "independent"}}
}
